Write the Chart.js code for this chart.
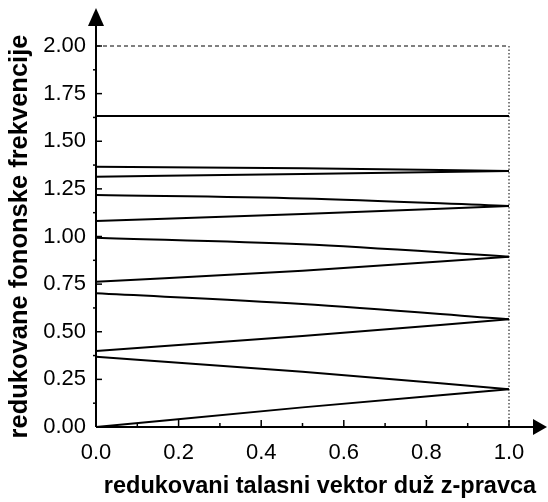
<!DOCTYPE html>
<html>
<head>
<meta charset="utf-8">
<script src="https://cdn.jsdelivr.net/npm/chart.js@4"></script>
<style>
  html, body { margin: 0; padding: 0; background: #fff; }
  #wrap { width: 548px; height: 502px; }
</style>
</head>
<body>
<div id="wrap"><canvas id="chart" width="548" height="502"></canvas></div>
<script>
// reduced wave vector (x) sample points
const kPoints = [0, 0.5, 1.0];

// reduced phonon frequency branches
const branch1 = [0.000, 0.103, 0.198];
const branch2 = [0.369, 0.290, 0.198];
const branch3 = [0.399, 0.478, 0.565];
const branch4 = [0.702, 0.646, 0.565];
const branch5 = [0.763, 0.820, 0.894];
const branch6 = [0.994, 0.959, 0.894];
const branch7 = [1.081, 1.118, 1.160];
const branch8 = [1.218, 1.200, 1.160];
const branch9 = [1.314, 1.328, 1.344];
const branch10 = [1.366, 1.358, 1.344];
const branch11 = [1.633, 1.633, 1.633];

const branches = [branch1, branch2, branch3, branch4, branch5, branch6,
                  branch7, branch8, branch9, branch10, branch11];

const xTitle = 'redukovani talasni vektor duž z-pravca';
const yTitle = 'redukovane fononske frekvencije';

function toPoints(vals) {
    return vals.map((v, i) => ({ x: kPoints[i], y: v }));
}

// Draws axes with arrows, inward ticks, dashed top and dotted right frame
const framePlugin = {
    id: 'frame',
    afterDatasetsDraw(chart) {
        const { ctx, chartArea: a, scales } = chart;
        const xs = scales.x, ys = scales.y;
        ctx.save();
        ctx.strokeStyle = '#000';
        ctx.fillStyle = '#000';

        // dashed line at top (y = 2)
        ctx.lineWidth = 1;
        ctx.setLineDash([4, 3]);
        ctx.beginPath();
        ctx.moveTo(a.left, ys.getPixelForValue(2));
        ctx.lineTo(xs.getPixelForValue(1), ys.getPixelForValue(2));
        ctx.stroke();

        // dotted line at x = 1
        ctx.setLineDash([1.5, 2]);
        ctx.beginPath();
        ctx.moveTo(xs.getPixelForValue(1), ys.getPixelForValue(2));
        ctx.lineTo(xs.getPixelForValue(1), a.bottom);
        ctx.stroke();
        ctx.setLineDash([]);

        // axes
        ctx.lineWidth = 2;
        ctx.beginPath();
        ctx.moveTo(a.left, a.bottom);
        ctx.lineTo(a.left, 22);
        ctx.moveTo(a.left, a.bottom);
        ctx.lineTo(536, a.bottom);
        ctx.stroke();

        // arrow heads
        ctx.beginPath();
        ctx.moveTo(a.left, 8);
        ctx.lineTo(a.left - 8, 26);
        ctx.lineTo(a.left + 8, 26);
        ctx.closePath();
        ctx.fill();
        ctx.beginPath();
        ctx.moveTo(547, a.bottom);
        ctx.lineTo(533, a.bottom - 8);
        ctx.lineTo(533, a.bottom + 8);
        ctx.closePath();
        ctx.fill();

        // y ticks (inward)
        ctx.lineWidth = 1.5;
        for (let v = 0; v <= 2.0001; v += 0.125) {
            const py = ys.getPixelForValue(v);
            const major = Math.abs(v / 0.25 - Math.round(v / 0.25)) < 1e-6;
            ctx.beginPath();
            if (major) {
                ctx.moveTo(a.left, py);
                ctx.lineTo(a.left + 6, py);
            } else {
                ctx.moveTo(a.left - 3, py);
                ctx.lineTo(a.left, py);
            }
            ctx.stroke();
        }
        // x ticks (inward)
        for (let v = 0.1; v <= 1.0001; v += 0.1) {
            const px = xs.getPixelForValue(v);
            const major = Math.round(v * 10) % 2 === 0;
            ctx.beginPath();
            ctx.moveTo(px, a.bottom);
            ctx.lineTo(px, a.bottom - (major ? 7 : 4));
            ctx.stroke();
        }

        // x axis title, placed a bit right of the plot centre like the original
        ctx.font = 'bold 23.5px "Liberation Sans", Arial, sans-serif';
        ctx.textAlign = 'center';
        ctx.textBaseline = 'alphabetic';
        ctx.fillText(xTitle, 320, 493);
        ctx.restore();
    }
};

new Chart(document.getElementById('chart'), {
    type: 'line',
    data: {
        datasets: branches.map((b, i) => ({
            label: 'grana ' + (i + 1),
            data: toPoints(b),
            borderColor: '#000',
            borderWidth: 2,
            pointRadius: 0,
            fill: false,
            cubicInterpolationMode: 'monotone'
        }))
    },
    options: {
        responsive: false,
        animation: false,
        layout: { padding: { top: 46, right: 39, left: 0, bottom: 0 } },
        plugins: {
            legend: { display: false },
            tooltip: { enabled: false }
        },
        scales: {
            x: {
                type: 'linear',
                min: 0,
                max: 1.0,
                grid: { display: false, drawTicks: false },
                border: { display: false },
                ticks: {
                    stepSize: 0.2,
                    padding: 13,
                    color: '#000',
                    font: { family: 'Liberation Sans, Arial, sans-serif', size: 22 },
                    callback: v => v.toFixed(1)
                },
                title: { display: false },
                afterFit(scale) { scale.height = 75; }
            },
            y: {
                type: 'linear',
                min: 0,
                max: 2.0,
                grid: { display: false, drawTicks: false },
                border: { display: false },
                ticks: {
                    stepSize: 0.25,
                    padding: 10,
                    color: '#000',
                    font: { family: 'Liberation Sans, Arial, sans-serif', size: 22 },
                    callback: v => v.toFixed(2)
                },
                title: {
                    display: true,
                    text: yTitle,
                    color: '#000',
                    padding: { top: 5, bottom: 0 },
                    font: { family: 'Liberation Sans, Arial, sans-serif', size: 25.5, weight: 'bold' }
                },
                afterFit(scale) { scale.width = 96; }
            }
        }
    },
    plugins: [framePlugin]
});
</script>
</body>
</html>
